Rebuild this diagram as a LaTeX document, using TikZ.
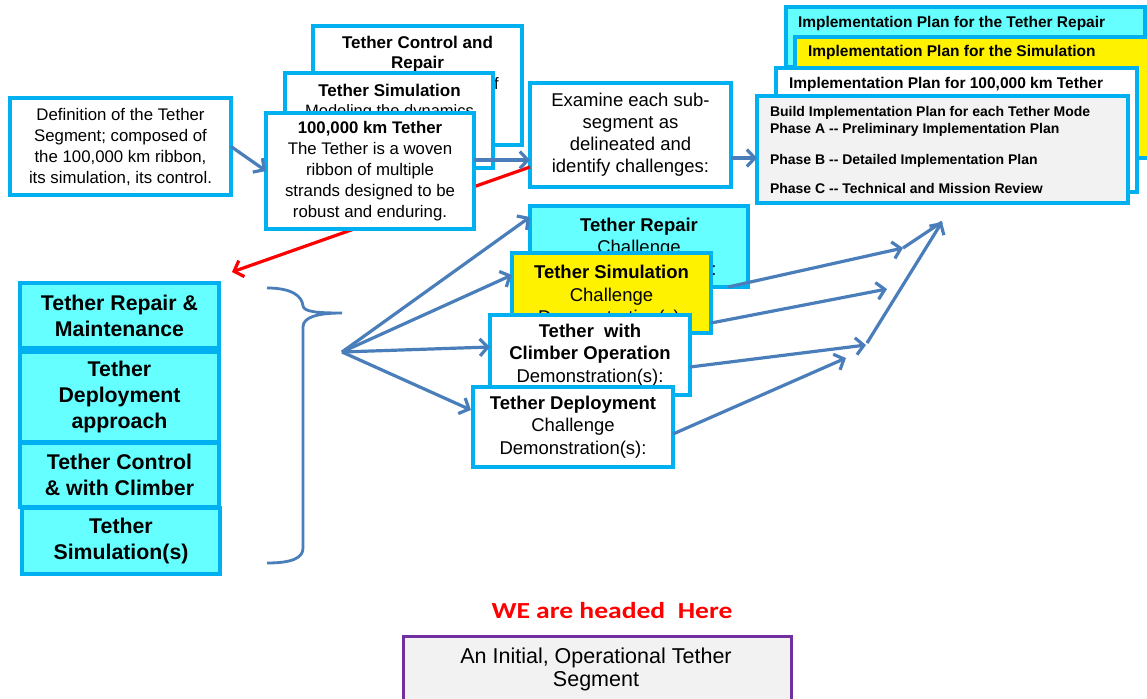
\documentclass[tikz,border=0pt]{standalone}
\usepackage{fontspec}
\setmainfont{Liberation Sans}
\newfontfamily\calibrifont{Carlito}
\usetikzlibrary{arrows.meta}
\definecolor{edgecyan}{RGB}{0,176,240}
\definecolor{fillcyan}{RGB}{102,255,255}
\definecolor{plangray}{RGB}{242,242,242}
\definecolor{flowblue}{RGB}{74,126,187}
\definecolor{goalpurple}{RGB}{112,48,160}
\newcommand\sz[2]{\fontsize{#1}{#2}\selectfont}
\begin{document}
\begin{tikzpicture}[x=1pt,y=-1pt,
  box/.style={draw=edgecyan,line width=3.2pt,rectangle,inner sep=0pt,outer sep=0pt,anchor=north west,align=center},
  ln/.style={inner sep=0pt,outer sep=0pt,anchor=base},
  lnl/.style={inner sep=0pt,outer sep=0pt,anchor=base west},
  flow/.style={draw=flowblue,line width=3.2pt,-{Straight Barb[length=8pt,width=17pt]}},
  link/.style={draw=flowblue,line width=3.2pt},
  redflow/.style={draw=red,line width=3.2pt,-{Straight Barb[length=8pt,width=17pt]}},
  bodytxt/.style={font=\sz{16.8}{21}},
  chtxt/.style={font=\sz{18.5}{22.5}},
  chbold/.style={font=\sz{18.5}{22.5}\bfseries},
  modetxt/.style={font=\sz{21.3}{26}\bfseries},
  plantxt/.style={font=\sz{15.5}{18}\bfseries},
  buildtxt/.style={font=\sz{14}{16}\bfseries},
]
\clip (0,0) rectangle (1147,698);
\fill[white] (0,0) rectangle (1147,698);

% definition of the segment
\node[box,fill=white,minimum width=221pt,minimum height=97pt,bodytxt] (def) at (10,98)
  {Definition of the Tether\\Segment; composed of\\the 100,000 km ribbon,\\its simulation, its control.};

% examination step
\node[box,fill=white,minimum width=201pt,minimum height=104pt,font=\sz{18.5}{22}] (exam) at (530,83)
  {Examine each sub-\\segment as\\delineated and\\identify challenges:};

% return link towards the sub-segment list
\coordinate (redEnd) at (232,272);
\draw[redflow] ([yshift=-32pt]exam.west) -- (redEnd);

% stacked sub-segment cards
\node[box,fill=white,minimum width=209pt,minimum height=119pt] (ctl) at (313,26) {};
\node[ln,font=\sz{17}{20}\bfseries] (ctlA) at (417.5,49) {Tether Control and};
\node[ln,font=\sz{17}{20}\bfseries] (ctlB) at (417.5,69) {Repair};
\node[inner sep=0pt,anchor=base east,font=\sz{16.5}{20}] (ctlC) at (499,90) {of};

\node[box,fill=white,minimum width=208pt,minimum height=95pt] (simT) at (285,73) {};
\node[ln,font=\sz{17}{20}\bfseries] (simTA) at (389.5,96) {Tether Simulation};
\node[ln,font=\sz{16.5}{20}] (simTB) at (389.5,117) {Modeling the dynamics};

\node[box,fill=white,minimum width=208pt,minimum height=116pt,bodytxt] (hund) at (266,113)
  {\textbf{100,000 km Tether}\\The Tether is a woven\\ribbon of multiple\\strands designed to be\\robust and enduring.};

\draw[flow] (def.east) -- (hund.west);
\draw[flow] ([yshift=11pt]hund.east) -- ([yshift=-25pt]exam.west);

% implementation plan cards
\node[box,fill=fillcyan,minimum width=359pt,minimum height=60pt] (planR) at (786,7) {};
\node[lnl,plantxt] (planRT) at (798,28) {Implementation Plan for the Tether Repair};
\node[box,fill=yellow,minimum width=359pt,minimum height=121pt] (planS) at (795,37) {};
\node[lnl,plantxt] (planST) at (808,57) {Implementation Plan for the Simulation};
\node[box,fill=white,minimum width=361pt,minimum height=124pt] (planH) at (776,68) {};
\node[lnl,plantxt] (planHT) at (789,89) {Implementation Plan for 100,000 km Tether};
\node[box,fill=plangray,minimum width=371pt,minimum height=107pt] (build) at (757,96) {};
\node[lnl,buildtxt] (bA) at (770,117) {Build Implementation Plan for each Tether Mode};
\node[lnl,buildtxt] (bB) at (770,133) {Phase A -{}- Preliminary Implementation Plan};
\node[lnl,buildtxt] (bC) at (770,164) {Phase B -{}- Detailed Implementation Plan};
\node[lnl,buildtxt] (bD) at (770,193) {Phase C -{}- Technical and Mission Review};

\draw[flow] ([yshift=-23pt]exam.east) -- ([yshift=-8.5pt]build.west);

% tether modes
\node[box,fill=fillcyan,minimum width=199pt,minimum height=65pt,modetxt] (mRep) at (20,283) {Tether Repair \&\\Maintenance};
\node[box,fill=fillcyan,minimum width=199pt,minimum height=90pt,modetxt] (mDep) at (20,352) {Tether\\Deployment\\approach};
\node[box,fill=fillcyan,minimum width=199pt,minimum height=64pt,modetxt] (mCtl) at (20,443) {Tether Control\\\& with Climber};
\node[box,fill=fillcyan,minimum width=198pt,minimum height=66pt,modetxt] (mSim) at (22,508) {Tether\\Simulation(s)};

% grouping brace
\draw[draw=flowblue,line width=2.8pt] (267,288) .. controls (292,288) and (302,296) .. (303,306)
  .. controls (304,312) and (318,313) .. (342,313)
  .. controls (318,313) and (303,317) .. (303,327) -- (303,548)
  .. controls (303,558) and (292,563) .. (267,563);

% fan towards the challenges
\coordinate (fan) at (342,352);

% challenge cards
\node[box,fill=fillcyan,minimum width=218pt,minimum height=81pt] (repC) at (530,206) {};
\node[ln,chbold] (repCA) at (639,231) {Tether Repair};
\node[ln,chtxt] (repCB) at (639,253) {Challenge};
\node[ln,chtxt] (repCC) at (643,275) {Demonstration(s):};

\node[box,fill=yellow,minimum width=199pt,minimum height=80pt] (simC) at (512,253) {};
\node[ln,chbold] (simCA) at (611.5,278) {Tether Simulation};
\node[ln,chtxt] (simCB) at (611.5,301) {Challenge};
\node[ln,chtxt] (simCC) at (611.5,323) {Demonstration(s):};

\node[box,fill=white,minimum width=200pt,minimum height=80pt,chtxt] (climbC) at (490,315)
  {\textbf{Tether\ \ with}\\\textbf{Climber Operation}\\Demonstration(s):};
\node[box,fill=white,minimum width=200pt,minimum height=80pt,chtxt] (deplC) at (473,387)
  {\textbf{Tether Deployment}\\Challenge\\Demonstration(s):};

\draw[flow] (fan) -- ([yshift=-11pt]repC.north west);
\draw[flow] (fan) -- ([yshift=-22pt]simC.north west);
\draw[flow] (fan) -- ([yshift=8pt]climbC.west);
\draw[flow] (fan) -- ([xshift=-2pt,yshift=-23pt]deplC.north west);

% converging arrows towards the plans
\coordinate (j1) at (903,248);
\coordinate (j2) at (887,289);
\coordinate (j3) at (866,345);
\coordinate (j4) at (846,358);
\coordinate (top) at (942,222);
\draw[flow] ([xshift=-20pt]repC.south east) -- (j1);
\draw[flow] ([yshift=-30pt]simC.east) -- (j2);
\draw[flow] ([yshift=-12pt]climbC.east) -- (j3);
\draw[flow] ([yshift=-7pt]deplC.east) -- (j4);
\draw[link] (j1) -- (top);
\draw[flow] ([xshift=1pt,yshift=2pt]j3) -- (top);

% destination
\node[ln,text=red,font=\calibrifont\sz{23}{26}\bfseries] (goalT) at (612,618.5) {\scalebox{1.2}[1]{WE are headed\ \ Here}};
\node[draw=goalpurple,line width=3.2pt,fill=plangray,rectangle,inner sep=0pt,anchor=north west,minimum width=388pt,minimum height=80pt] (goal) at (402,635) {};
\node[ln,font=\sz{21.5}{24}] (goalA) at (596,663) {An Initial, Operational Tether};
\node[ln,font=\sz{21.5}{24}] (goalB) at (596,686) {Segment};
\end{tikzpicture}
\end{document}
